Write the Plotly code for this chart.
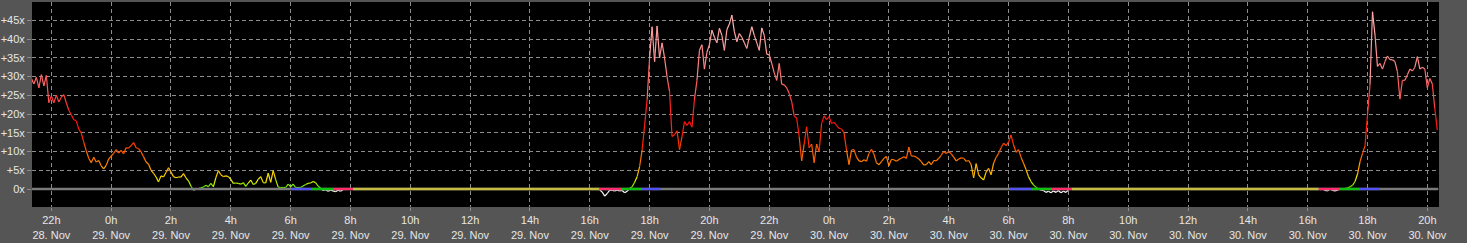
import pandas as pd
import plotly.graph_objects as go

# ---------------- data (5-minute samples) ----------------
# 28 Nov, 21:20 .. 23:55
vals_28nov = [
    29.5, 28.0, 29.8, 27.0, 30.5, 27.5, 30.3, 23.0,
    24.8, 23.0, 25.0, 23.2, 24.5, 25.2, 23.0, 21.0, 19.8, 18.5, 18.2, 16.0,
    15.0, 12.5, 10.2, 8.2, 7.0, 8.5, 7.2, 7.6, 6.2, 5.4, 6.3, 8.0,
]
# 29 Nov, 00:00 .. 23:55
vals_29nov = (
    [8.8, 9.5, 10.5, 9.6, 10.3, 9.4, 11.0, 10.9, 11.6, 12.4, 11.0, 10.8]
    + [9.9, 8.6, 7.2, 6.6, 5.0, 4.2, 3.2, 1.9, 3.5, 3.2, 4.4, 5.7]
    + [4.5, 3.3, 3.0, 3.2, 3.2, 4.1, 3.0, 2.2, 0.8, -0.3, 0.0, 0.1]
    + [0.3, 0.5, 1.0, 0.6, 1.5, 0.6, 3.0, 4.9, 3.8, 3.3, 3.5, 3.3]
    + [2.6, 1.5, 1.6, 1.5, 1.3, 1.7, 0.7, 1.6, 2.4, 1.2, 1.5, 2.6]
    + [3.3, 1.7, 1.6, 4.2, 1.8, 4.9, 2.5, 0.5, 0.4, 0.4, 0.4, 1.3]
    + [0.6, 1.3, 0.4, 0.4, 0.4, 0.8, 1.2, 1.5, 1.6, 2.0, 1.7, 0.8]
    + [0.2, -0.4, -0.2, -0.6, -0.3, -0.5, -0.7, -0.3, -0.6, -0.2, None, None]
    + [None] * 96
    + [None, None, None, None, -0.3, -0.8, -1.9, -1.2, -0.3, -0.4, -0.5, -0.3]
    + [-0.5, -0.4, -1.0, -0.6, 0.2, 0.6, 1.8, 3.3, 6.0, 10.4, 17.0, 23.8]
    + [35.0, 43.3, 34.0, 43.5, 35.0, 39.0, 35.0, 30.0, 26.0, 14.0, 14.5, 15.5]
    + [10.5, 14.0, 18.0, 17.0, 18.0, 16.5, 24.0, 29.0, 37.0, 38.5, 32.0, 36.5]
    + [38.5, 42.4, 40.5, 39.0, 42.9, 41.0, 37.0, 42.5, 44.0, 46.4, 42.0, 39.3]
    + [41.5, 40.5, 39.0, 37.5, 40.5, 43.3, 41.0, 39.0, 37.0, 43.0, 41.0, 36.0]
    + [35.8, 33.5, 31.0, 29.0, 33.5, 28.0, 27.8, 27.0, 25.5, 23.3, 19.5, 18.9]
    + [14.0, 7.5, 12.0, 16.6, 11.0, 12.0, 7.0, 12.0, 10.0, 17.5, 19.5, 18.5]
)
# 30 Nov, 00:00 .. 20:20
vals_30nov = (
    [19.3, 17.5, 17.8, 17.0, 16.2, 16.0, 15.0, 10.4, 6.5, 10.4, 10.5, 8.5]
    + [7.5, 7.3, 7.8, 7.4, 9.5, 10.6, 9.3, 7.0, 6.5, 7.3, 8.2, 8.7]
    + [6.2, 7.9, 7.8, 7.4, 7.9, 8.2, 8.6, 8.2, 11.2, 8.8, 8.8, 8.5]
    + [8.0, 7.3, 6.4, 6.5, 7.3, 6.5, 7.6, 7.5, 8.2, 9.0, 10.0, 9.5]
    + [10.0, 9.4, 8.5, 7.5, 8.0, 8.3, 8.2, 7.4, 7.6, 6.5, 3.0, 6.8]
    + [3.8, 3.0, 2.4, 4.5, 5.5, 3.8, 6.9, 8.4, 9.5, 11.0, 12.2, 11.6]
    + [12.5, 14.4, 11.8, 9.8, 10.5, 8.5, 6.9, 5.2, 3.3, 2.0, 1.1, 0.5]
    + [0.1, -0.3, -0.4, -0.9, -0.6, -1.0, -0.5, -0.9, -0.4, -1.0, -0.6, -0.9]
    + [-0.3] + [None] * 11
    + [None] * 84
    + [None] * 5 + [-0.2, 0.0, -0.4, -0.5, 0.0, -0.4, -0.5]
    + [-0.3, 0.0, 0.0, 0.1, 0.3, 0.6, 1.0, 2.0, 4.0, 7.3, 9.5, 11.5]
    + [19.8, 27.8, 47.3, 41.1, 32.7, 33.5, 32.0, 34.0, 35.5, 34.5, 34.5, 34.0]
    + [31.3, 24.0, 29.0, 29.0, 30.5, 32.0, 31.5, 32.5, 35.3, 32.0, 32.5, 32.0]
    + [27.0, 29.5, 28.0, 21.5, 15.7]
)
series_start = "2023-11-28 21:20"

# day-light phase band along the zero line
band_start = ["2023-11-29 06:01", "2023-11-29 06:42", "2023-11-29 07:25", "2023-11-29 08:05",
              "2023-11-29 16:19", "2023-11-29 17:03", "2023-11-29 17:45",
              "2023-11-30 06:03", "2023-11-30 06:47", "2023-11-30 07:27", "2023-11-30 08:07",
              "2023-11-30 16:22", "2023-11-30 17:04", "2023-11-30 17:44"]
band_end = ["2023-11-29 06:42", "2023-11-29 07:25", "2023-11-29 08:05", "2023-11-29 16:19",
            "2023-11-29 17:03", "2023-11-29 17:45", "2023-11-29 18:22",
            "2023-11-30 06:47", "2023-11-30 07:27", "2023-11-30 08:07", "2023-11-30 16:22",
            "2023-11-30 17:04", "2023-11-30 17:44", "2023-11-30 18:25"]
band_phase = ["astro", "nautical", "civil", "day", "civil", "nautical", "astro",
              "astro", "nautical", "civil", "day", "civil", "nautical", "astro"]

tick_times = ["2023-11-28 22:00", "2023-11-29 00:00", "2023-11-29 02:00", "2023-11-29 04:00",
              "2023-11-29 06:00", "2023-11-29 08:00", "2023-11-29 10:00", "2023-11-29 12:00",
              "2023-11-29 14:00", "2023-11-29 16:00", "2023-11-29 18:00", "2023-11-29 20:00",
              "2023-11-29 22:00", "2023-11-30 00:00", "2023-11-30 02:00", "2023-11-30 04:00",
              "2023-11-30 06:00", "2023-11-30 08:00", "2023-11-30 10:00", "2023-11-30 12:00",
              "2023-11-30 14:00", "2023-11-30 16:00", "2023-11-30 18:00", "2023-11-30 20:00"]
tick_labels = ["22h<br>28. Nov", "0h<br>29. Nov", "2h<br>29. Nov", "4h<br>29. Nov",
               "6h<br>29. Nov", "8h<br>29. Nov", "10h<br>29. Nov", "12h<br>29. Nov",
               "14h<br>29. Nov", "16h<br>29. Nov", "18h<br>29. Nov", "20h<br>29. Nov",
               "22h<br>29. Nov", "0h<br>30. Nov", "2h<br>30. Nov", "4h<br>30. Nov",
               "6h<br>30. Nov", "8h<br>30. Nov", "10h<br>30. Nov", "12h<br>30. Nov",
               "14h<br>30. Nov", "16h<br>30. Nov", "18h<br>30. Nov", "20h<br>30. Nov"]
y_tickvals = [0, 5, 10, 15, 20, 25, 30, 35, 40, 45]
y_ticklabels = ["0x", "+5x", "+10x", "+15x", "+20x", "+25x", "+30x", "+35x", "+40x", "+45x"]

# ---------------- styling ----------------
PHASE_COLORS = {"astro": "#5252f5", "nautical": "#10c010", "civil": "#ff2d6c", "day": "#c4bc40"}
STOPS = [(0, (60, 220, 0)), (1.0, (130, 240, 0)), (2.0, (230, 240, 0)), (3.5, (255, 210, 0)),
         (5.0, (255, 180, 0)), (6.5, (255, 140, 0)), (8.5, (255, 110, 0)), (11, (255, 75, 0)),
         (14, (255, 40, 0)), (18, (255, 15, 15)), (22, (255, 50, 50)), (27, (255, 90, 90)),
         (33, (255, 130, 130)), (40, (255, 160, 160)), (47, (255, 185, 185))]


def color_for(v):
    if v < 0:
        return "rgb(255,255,255)"
    if v >= STOPS[-1][0]:
        c = STOPS[-1][1]
    else:
        c = STOPS[0][1]
        for (v0, c0), (v1, c1) in zip(STOPS[:-1], STOPS[1:]):
            if v0 <= v <= v1:
                f = (v - v0) / (v1 - v0)
                c = tuple(a + (b - a) * f for a, b in zip(c0, c1))
                break
    c = tuple(min(255, int(round(ch / 8.0) * 8)) for ch in c)
    return "rgb(%d,%d,%d)" % c


values = vals_28nov + vals_29nov + vals_30nov
times = pd.date_range(series_start, periods=len(values), freq="5min")

groups = {}
for i in range(len(values) - 1):
    a, b = values[i], values[i + 1]
    if a is None or b is None:
        continue
    col = color_for((a + b) / 2.0)
    gx, gy = groups.setdefault(col, ([], []))
    gx += [times[i], times[i + 1], None]
    gy += [a, b, None]

fig = go.Figure()
x_left = pd.Timestamp("2023-11-28 21:21:13")
x_right = pd.Timestamp("2023-11-30 20:23:24")

for col, (gx, gy) in groups.items():
    fig.add_trace(go.Scatter(x=gx, y=gy, mode="lines", line=dict(color=col, width=1.2),
                             hoverinfo="skip", showlegend=False))

# zero band (drawn on top)
fig.add_trace(go.Scatter(x=[x_left, pd.Timestamp("2023-11-30 20:22")], y=[0, 0], mode="lines",
                         line=dict(color="#7a7a7a", width=2.4), hoverinfo="skip", showlegend=False))
for s, e, p in zip(band_start, band_end, band_phase):
    fig.add_trace(go.Scatter(x=[s, e], y=[0, 0], mode="lines",
                             line=dict(color=PHASE_COLORS[p], width=2.4),
                             hoverinfo="skip", showlegend=False))

font = dict(family="Liberation Sans, Arial, sans-serif", size=11, color="#e6e6e6")
fig.update_layout(
    width=1467, height=243,
    margin=dict(l=32, r=28, t=2, b=36),
    paper_bgcolor="#555555", plot_bgcolor="#000000",
    font=font, showlegend=False,
    xaxis=dict(type="date", range=[x_left, x_right], tickmode="array",
               tickvals=tick_times, ticktext=tick_labels, showgrid=True,
               gridcolor="#8c8c8c", griddash="4px,3px", gridwidth=1,
               ticks="outside", ticklen=3, tickcolor="#8c8c8c",
               zeroline=False, showline=False, tickfont=font, fixedrange=True),
    yaxis=dict(range=[-4.8, 49.9], tickmode="array", tickvals=y_tickvals,
               ticktext=y_ticklabels, showgrid=True, gridcolor="#8c8c8c",
               griddash="4px,3px", gridwidth=1, ticks="outside", ticklen=4,
               tickcolor="#8c8c8c", zeroline=False, showline=False,
               tickfont=font, fixedrange=True),
)

fig.write_html("out.html")
